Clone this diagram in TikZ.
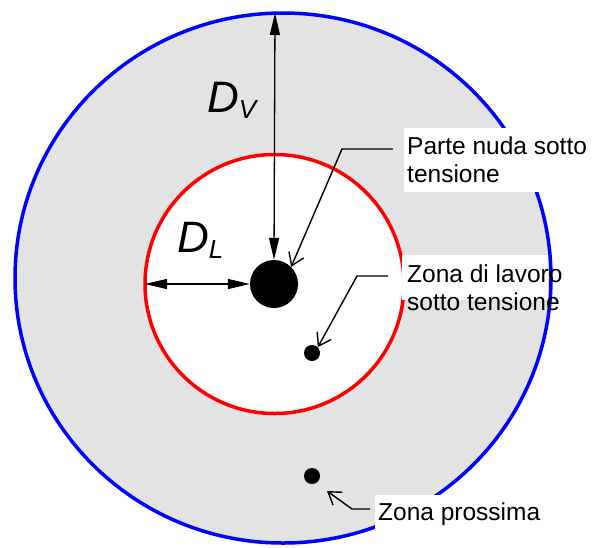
\documentclass[tikz,border=0pt]{standalone}
\usepackage{fontspec}
\setmainfont{Liberation Sans}
\usetikzlibrary{shapes,arrows.meta,positioning,calc}

\definecolor{zonegray}{HTML}{E3E3E3}
\newcommand{\symsub}[2]{#1\raisebox{-6pt}{\fontsize{26}{28}\selectfont #2}}

\begin{document}
\begin{tikzpicture}[
  x=1pt, y=-1pt,
  zone/.style={ellipse, line width=3.5pt, inner sep=0pt, outer sep=0pt},
  dot/.style={circle, fill=black, inner sep=0pt},
  dim/.style={line width=1.3pt, {Triangle[length=22pt,width=10pt]}-{Triangle[length=22pt,width=10pt]}},
  lead/.style={line width=1.4pt, -{Straight Barb[length=12pt,width=16pt]}},
  lbl/.style={align=left, font=\fontsize{24.5}{28}\selectfont, inner xsep=3pt, inner ysep=7pt},
  sym/.style={font=\fontsize{44}{48}\selectfont\itshape, inner sep=0pt}
]
  \useasboundingbox (0,0) rectangle (594,547);

  % zones
  \node[zone, draw=blue, fill=zonegray, minimum width=536pt, minimum height=530pt] (outer) at (283,278) {};
  \node[zone, circle, draw=red, fill=white, minimum size=259pt] (inner) at (274.5,284) {};

  % conductors
  \node[dot, minimum size=48pt] (live) at (274,284) {};
  \node[dot, minimum size=16pt] (work) at (312,353) {};
  \node[dot, minimum size=16pt] (near) at (312,476) {};

  % distances
  \coordinate (vtop) at (275,13);
  \draw[dim] (vtop) -- (live.north);
  \draw[dim] (inner.west) -- (live.west);
  \node[sym, anchor=base west] (dv) at (207,112) {\symsub{D}{V}};
  \node[sym, anchor=base west] (dl) at (177,252) {\symsub{D}{L}};

  % labels
  \node[lbl, fill=white, anchor=north west, inner ysep=9pt] (lblpart) at (404,128) {Parte nuda sotto\\tensione};
  \fill[white] (402,255) rectangle (548,300);
  \node[lbl, anchor=north west] (lblwork) at (404,258) {Zona di lavoro\\sotto tensione};
  \node[lbl, fill=white, anchor=base west] (lblnear) at (375,520) {Zona prossima};

  % leaders
  \coordinate (spart) at (393,149);
  \coordinate (kpart) at (342,149);
  \coordinate (swork) at (388,276);
  \coordinate (kwork) at (357,276);
  \coordinate (snear) at (370,509);
  \coordinate (knear) at (352,509);
  \coordinate (tnear) at (327,491);
  \draw[lead] (spart) -- (kpart) -- (live.north east);
  \draw[lead] (swork) -- (kwork) -- (work.north east);
  \draw[lead] (snear) -- (knear) -- (tnear);
\end{tikzpicture}
\end{document}
